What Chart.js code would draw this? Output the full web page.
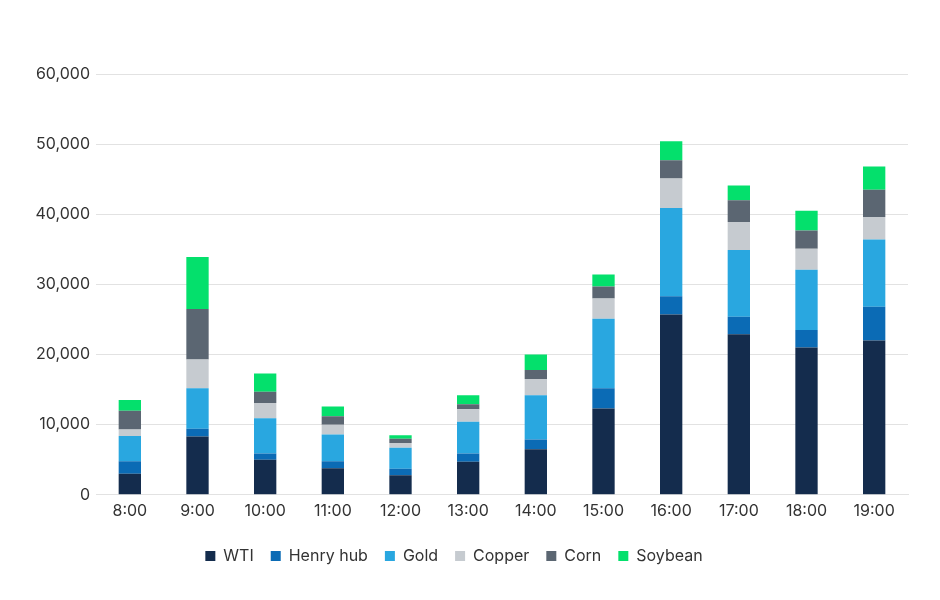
<!DOCTYPE html>
<html>
<head>
<meta charset="utf-8">
<script src="https://cdn.jsdelivr.net/npm/chart.js@4/dist/chart.umd.min.js"></script>
<style>
  html, body { margin: 0; padding: 0; background: #fff; }
  #wrap { width: 940px; height: 600px; position: relative; }
</style>
</head>
<body>
<div id="wrap"><canvas id="chart-volume"></canvas></div>
<script>
/* ── Data ─────────────────────────────────────────────────────────── */
const hours    = ['8:00', '9:00', '10:00', '11:00', '12:00', '13:00',
                  '14:00', '15:00', '16:00', '17:00', '18:00', '19:00'];
const wti      = [3000, 8300, 5000, 3800, 2800, 4700, 6500, 12300, 25700, 22900, 21000, 22000];
const henryHub = [1800, 1100,  900, 1000,  900, 1200, 1400,  2900,  2600,  2500,  2500,  4800];
const gold     = [3600, 5800, 5000, 3800, 3000, 4500, 6300,  9900, 12600,  9500,  8600,  9600];
const copper   = [ 900, 4100, 2200, 1400,  700, 1800, 2300,  2900,  4200,  4000,  3000,  3200];
const corn     = [2700, 7200, 1600, 1200,  600,  700, 1300,  1700,  2600,  3100,  2600,  3900];
const soybean  = [1500, 7400, 2600, 1400,  500, 1300, 2200,  1700,  2700,  2100,  2800,  3300];

/* ── Theme ────────────────────────────────────────────────────────── */
const FONT = "Inter, 'Open Sans', sans-serif";
const TEXT = '#333333';
const GRID = '#e2e2e2';

const series = [
  { label: 'WTI',       data: wti,      color: '#142c4d' },
  { label: 'Henry hub', data: henryHub, color: '#0b6bb5' },
  { label: 'Gold',      data: gold,     color: '#29a7e0' },
  { label: 'Copper',    data: copper,   color: '#c6cbd0' },
  { label: 'Corn',      data: corn,     color: '#5b6672' },
  { label: 'Soybean',   data: soybean,  color: '#04e06c' },
];

/* ── Chart ────────────────────────────────────────────────────────── */
new Chart(document.getElementById('chart-volume'), {
  type: 'bar',
  data: {
    labels: hours,
    datasets: series.map(s => ({
      label:              s.label,
      data:               s.data,
      backgroundColor:    s.color,
      borderWidth:        0,
      barPercentage:      0.33,
      categoryPercentage: 1,
    })),
  },
  options: {
    responsive:          true,
    maintainAspectRatio: false,
    animation:           false,
    layout: { padding: { top: 74, left: 0, right: 32, bottom: 26 } },
    plugins: {
      tooltip: { enabled: false },
      legend: {
        position: 'bottom',
        labels: {
          color:     TEXT,
          boxWidth:  10,
          boxHeight: 10,
          padding:   17,
          font:      { family: FONT, size: 16 },
        },
      },
    },
    scales: {
      x: {
        stacked: true,
        grid:    { display: false, drawTicks: false },
        border:  { color: GRID },
        ticks:   { color: TEXT, padding: 7, font: { family: FONT, size: 16 } },
        afterFit: s => { s.height += 3; },
      },
      y: {
        stacked: true,
        min: 0,
        max: 60000,
        grid:   { color: GRID, drawTicks: false },
        border: { display: false },
        ticks: {
          stepSize: 10000,
          color:    TEXT,
          padding:  6,
          font:     { family: FONT, size: 16 },
          callback: v => v.toLocaleString('en-US'),
        },
        afterFit: s => { s.width = 96; },
      },
    },
  },
});
</script>
</body>
</html>
